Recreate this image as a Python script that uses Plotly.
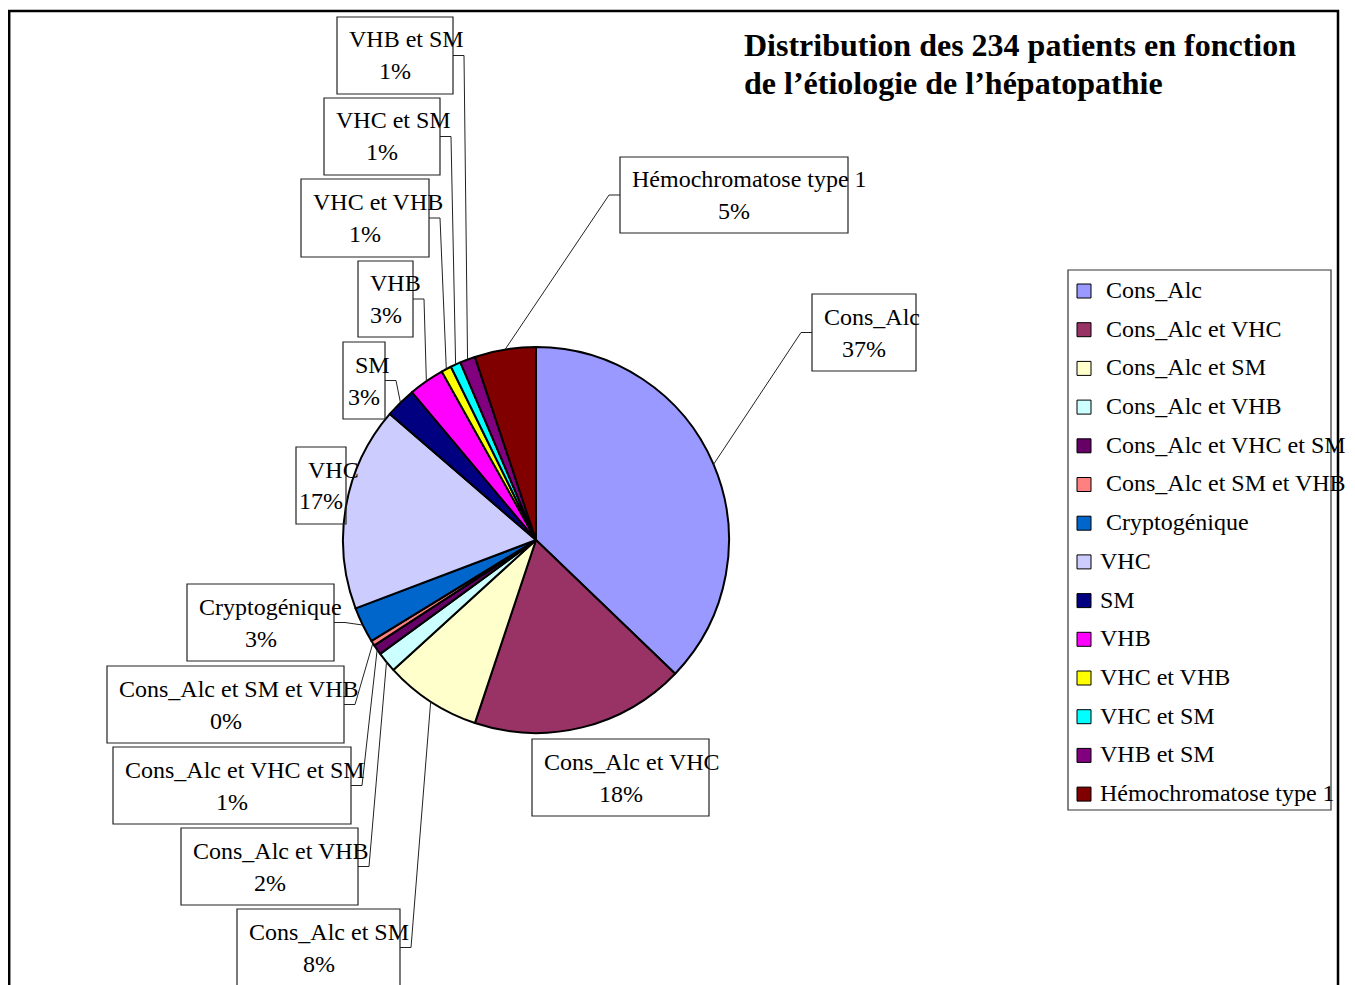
"""
Camembert : distribution des patients selon l'étiologie de l'hépatopathie
(reproduction d'un graphique Excel avec étiquettes encadrées et lignes de rappel)
"""

import math
import plotly.graph_objects as go

# ─── Données ───
labels = ["Cons_Alc", "Cons_Alc et VHC", "Cons_Alc et SM", "Cons_Alc et VHB",
          "Cons_Alc et VHC et SM", "Cons_Alc et SM et VHB", "Cryptogénique",
          "VHC", "SM", "VHB", "VHC et VHB", "VHC et SM", "VHB et SM",
          "Hémochromatose type 1"]
patients = [87, 42, 19, 4, 2, 1, 7, 40, 6, 7, 2, 2, 3, 12]

# palette Excel par défaut
colors = ["#9999FF", "#993366", "#FFFFCC", "#CCFFFF", "#660066", "#FF8080",
          "#0066CC", "#CCCCFF", "#000080", "#FF00FF", "#FFFF00", "#00FFFF",
          "#800080", "#800000"]

title_lines = ["Distribution des 234 patients en fonction",
               "de l’étiologie de l’hépatopathie"]

# ─── Mise en page (pixels de la fenêtre) ───
W, H = 1355, 985
OFF = 8                            # marge du <body> de la page html
CX, CY, R = 536, 540, 193          # centre et rayon du camembert
FONT = "Liberation Serif, Times New Roman, serif"

# cadre des étiquettes : x0, y0, x1, y1, côté de la ligne de rappel
BOXES = {
    "Cons_Alc":              (812, 294, 916, 371, "L"),
    "Cons_Alc et VHC":       (532, 739, 709, 816, None),
    "Cons_Alc et SM":        (237, 909, 400, 986, "R"),
    "Cons_Alc et VHB":       (181, 828, 358, 905, "R"),
    "Cons_Alc et VHC et SM": (113, 747, 351, 824, "R"),
    "Cons_Alc et SM et VHB": (107, 666, 344, 743, "R"),
    "Cryptogénique":         (187, 584, 334, 661, "R"),
    "VHC":                   (296, 447, 346, 524, None),
    "SM":                    (343, 342, 385, 419, "R"),
    "VHB":                   (358, 261, 413, 337, "R"),
    "VHC et VHB":            (301, 179, 429, 257, "R"),
    "VHC et SM":             (324,  98, 440, 175, "R"),
    "VHB et SM":             (337,  17, 453,  94, "R"),
    "Hémochromatose type 1": (620, 157, 848, 233, "L"),
}
STUB = 11

LEG_BOX = (1068, 270, 1331, 810)
LEG_Y0, LEG_STEP = 291, 38.7


def px(x):
    return (x - OFF) / W


def py(y):
    return 1 - (y - OFF) / H


fig = go.Figure()

fig.add_trace(go.Pie(
    labels=labels, values=patients, sort=False,
    direction="clockwise", rotation=0,
    marker=dict(colors=colors, line=dict(color="black", width=2)),
    textinfo="none", showlegend=False,
    domain=dict(x=[px(CX - R), px(CX + R)], y=[py(CY + R), py(CY - R)]),
))

total = sum(patients)
shapes, annotations = [], []

# ─── Étiquettes encadrées + lignes de rappel ───
cum = 0
for lab, val in zip(labels, patients):
    theta = 2 * math.pi * (cum + val / 2) / total
    cum += val
    ex, ey = CX + R * math.sin(theta), CY - R * math.cos(theta)

    x0, y0, x1, y1, side = BOXES[lab]
    ym = (y0 + y1) / 2
    shapes.append(dict(type="rect", xref="paper", yref="paper",
                       x0=px(x0), x1=px(x1), y0=py(y0), y1=py(y1),
                       line=dict(color="#222", width=1.2)))
    annotations.append(dict(x=px(x0 + 10), y=py(ym - 16), xref="paper", yref="paper",
                            text=lab, showarrow=False, xanchor="left", yanchor="middle",
                            font=dict(family=FONT, size=24, color="black")))
    annotations.append(dict(x=px((x0 + x1) / 2), y=py(ym + 16), xref="paper", yref="paper",
                            text=f"{round(100 * val / total)}%", showarrow=False,
                            xanchor="center", yanchor="middle",
                            font=dict(family=FONT, size=24, color="black")))
    if side:
        ax = x1 if side == "R" else x0
        sx = ax + STUB if side == "R" else ax - STUB
        shapes.append(dict(type="path", xref="paper", yref="paper",
                           path=f"M {px(ax)},{py(ym)} L {px(sx)},{py(ym)} L {px(ex)},{py(ey)}",
                           line=dict(color="#222", width=1)))

# ─── Légende ───
shapes.append(dict(type="rect", xref="paper", yref="paper",
                   x0=px(LEG_BOX[0]), x1=px(LEG_BOX[2]), y0=py(LEG_BOX[1]), y1=py(LEG_BOX[3]),
                   line=dict(color="#333", width=1.2)))
for i, (lab, col) in enumerate(zip(labels, colors)):
    yc = LEG_Y0 + i * LEG_STEP
    shapes.append(dict(type="rect", xref="paper", yref="paper",
                       x0=px(1077), x1=px(1091), y0=py(yc - 7), y1=py(yc + 7),
                       fillcolor=col, line=dict(color="black", width=1)))
    annotations.append(dict(x=px(1104 if i < 7 else 1098), y=py(yc - 1), xref="paper", yref="paper",
                            text=lab, showarrow=False, xanchor="left", yanchor="middle",
                            font=dict(family=FONT, size=24, color="black")))

# ─── Titre ───
for k, line in enumerate(title_lines):
    annotations.append(dict(x=px(742), y=py(45 + 38 * k), xref="paper", yref="paper",
                            text=f"<b>{line}</b>", showarrow=False,
                            xanchor="left", yanchor="middle",
                            font=dict(family=FONT, size=32, color="black")))

# cadre extérieur
shapes.append(dict(type="rect", xref="paper", yref="paper",
                   x0=px(9.2), x1=px(1338), y0=py(11), y1=py(1010),
                   line=dict(color="black", width=2.5)))

fig.update_layout(
    width=W, height=H,
    margin=dict(l=0, r=0, t=0, b=0),
    paper_bgcolor="white", plot_bgcolor="white",
    shapes=shapes, annotations=annotations,
    showlegend=False,
)

fig.write_html("out.html")
